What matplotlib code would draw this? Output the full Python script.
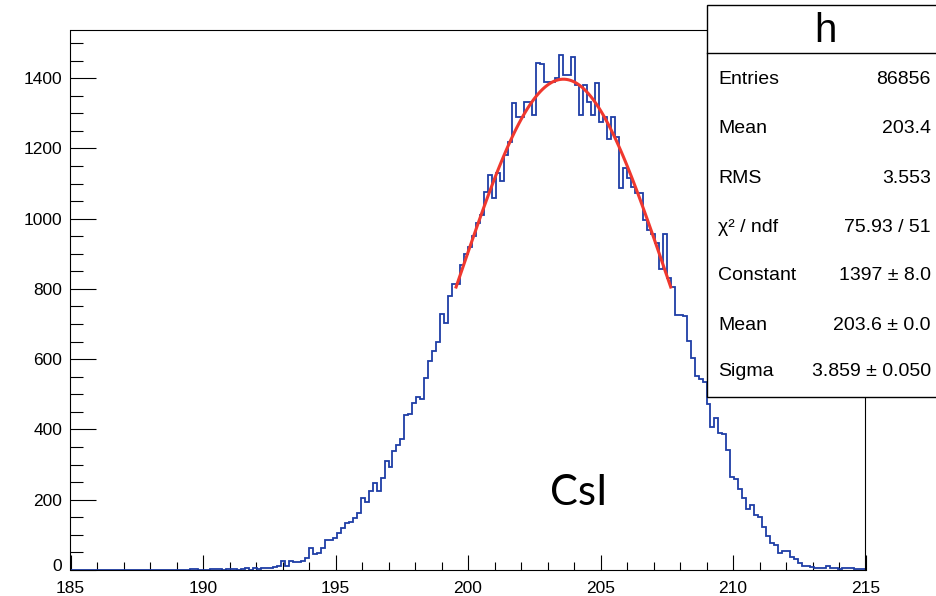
import numpy as np
import matplotlib
matplotlib.use("Agg")
import matplotlib.pyplot as plt
import matplotlib.transforms as mtransforms
from matplotlib.patches import Rectangle
from matplotlib.lines import Line2D
from matplotlib.ticker import MultipleLocator

# ---------------- data ----------------
x_min, x_max, n_bins = 185.0, 215.0, 200
counts = (
    [0] * 30 +
    [2, 2, 0, 0, 0, 2, 2, 2, 0, 2,            # 30-39
     2, 2, 0, 3, 6, 1, 7, 2, 5, 5,            # 40-49
     7, 9, 12, 26, 10, 26, 23, 23, 26, 35,    # 50-59
     64, 45, 49, 64, 84, 84, 90, 104, 119, 135,   # 60-69
     138, 148, 162, 205, 194, 225, 249, 225, 263, 310,  # 70-79
     293, 339, 356, 372, 441, 445, 476, 492, 486, 547,  # 80-89
     595, 623, 650, 728, 703, 779, 815, 815, 868, 899,  # 90-99
     918, 950, 987, 1010, 1077, 1124, 1060, 1131, 1108, 1180,  # 100-109
     1219, 1328, 1288, 1290, 1333, 1333, 1295, 1442, 1440, 1390,  # 110-119
     1390, 1390, 1399, 1466, 1409, 1409, 1461, 1380, 1295, 1380,  # 120-129
     1333, 1295, 1385, 1276, 1290, 1228, 1290, 1233, 1086, 1143,  # 130-139
     1115, 1091, 1072, 1072, 996, 968, 956, 930, 858, 956,        # 140-149
     830, 806, 726, 726, 723, 653, 602, 552, 545, 536,            # 150-159
     472, 408, 434, 389, 387, 341, 264, 258, 230, 204,            # 160-169
     175, 185, 157, 152, 123, 97, 76, 71, 47, 55,                 # 170-179
     55, 38, 30, 20, 10, 10, 8, 5, 5, 5,                          # 180-189
     10, 5, 5, 2, 5, 5, 5, 2, 2, 2]                               # 190-199
)

fit_constant = 1397.0
fit_mean = 203.6
fit_sigma = 3.859
fit_lo, fit_hi = 199.55, 207.65

stats_title = "h"
stats_labels = ["Entries", "Mean", "RMS", "\u03c7\u00b2 / ndf", "Constant", "Mean", "Sigma"]
stats_values = ["86856", "203.4", "3.553", "75.93 / 51", "1397 \u00b1 8.0",
                "203.6 \u00b1 0.0", "3.859 \u00b1 0.050"]

x_ticks = [185, 190, 195, 200, 205, 210, 215]
y_ticks = [0, 200, 400, 600, 800, 1000, 1200, 1400]
y_top = 1537
annotation = "CsI"

# ---------------- figure ----------------
W, H = 937, 596
fig = plt.figure(figsize=(W / 100, H / 100), dpi=100)
fig.patch.set_facecolor("white")


def fx(px):
    return px / W


def fy(py):
    return 1 - py / H


ax_l, ax_r, ax_t, ax_b = 70.5, 865.5, 30, 570
ax = fig.add_axes([fx(ax_l), fy(ax_b), fx(ax_r - ax_l), (ax_b - ax_t) / H])

edges = np.linspace(x_min, x_max, n_bins + 1)
ax.stairs(counts, edges, color="#1f3ea6", linewidth=1.3, zorder=2)

xf = np.linspace(fit_lo, fit_hi, 100)
yf = fit_constant * np.exp(-0.5 * ((xf - fit_mean) / fit_sigma) ** 2)
ax.plot(xf, yf, color="#f0382e", linewidth=2.2, zorder=3)

ax.set_xlim(x_min, x_max)
ax.set_ylim(0, y_top)
ax.set_xticks(x_ticks)
ax.set_yticks(y_ticks)
ax.xaxis.set_minor_locator(MultipleLocator(1))
ax.yaxis.set_minor_locator(MultipleLocator(50))

tick_font = dict(family="Liberation Sans", size=12.5)
ax.set_xticklabels([str(v) for v in x_ticks], fontdict=tick_font)
ax.set_yticklabels([str(v) for v in y_ticks], fontdict=tick_font)

ax.tick_params(axis="y", which="major", direction="in", length=18.5, width=0.8, pad=6)
ax.tick_params(axis="y", which="minor", direction="in", length=9.5, width=0.8)
ax.tick_params(axis="x", which="major", direction="in", length=10.8, width=0.8, pad=8)
ax.tick_params(axis="x", which="minor", direction="in", length=5.8, width=0.8)
for sp in ax.spines.values():
    sp.set_linewidth(0.8)
    sp.set_color("black")

# nudge the "0" y label slightly upward, as in the reference
zero_lab = ax.yaxis.get_major_ticks()[0].label1
zero_lab.set_transform(zero_lab.get_transform() +
                       mtransforms.ScaledTranslation(0, 5 / 100, fig.dpi_scale_trans))

fig.text(fx(579), fy(493), annotation, fontsize=30, family="Lato",
         ha="center", va="center", color="black")

# ---------------- stats box ----------------
bx0, bx1, by0, by1 = 707, 942, 5, 397
box = Rectangle((fx(bx0), fy(by1)), fx(bx1 - bx0), (by1 - by0) / H,
                transform=fig.transFigure, facecolor="white", edgecolor="black",
                linewidth=1.0, zorder=10)
fig.add_artist(box)
sep = Line2D([fx(bx0), fx(bx1)], [fy(53), fy(53)], transform=fig.transFigure,
             color="black", linewidth=1.0, zorder=11)
fig.add_artist(sep)
fig.text(fx(825), fy(31), stats_title, fontsize=29, family="Liberation Sans",
         ha="center", va="center", zorder=12)
row_y = [79, 129, 178, 227, 276, 326, 372]
for lab, val, yy in zip(stats_labels, stats_values, row_y):
    fig.text(fx(718), fy(yy), lab, fontsize=14, family="Liberation Sans",
             ha="left", va="center", zorder=12)
    fig.text(fx(931), fy(yy), val, fontsize=14, family="Liberation Sans",
             ha="right", va="center", zorder=12)

fig.savefig("out.png", dpi=100)
